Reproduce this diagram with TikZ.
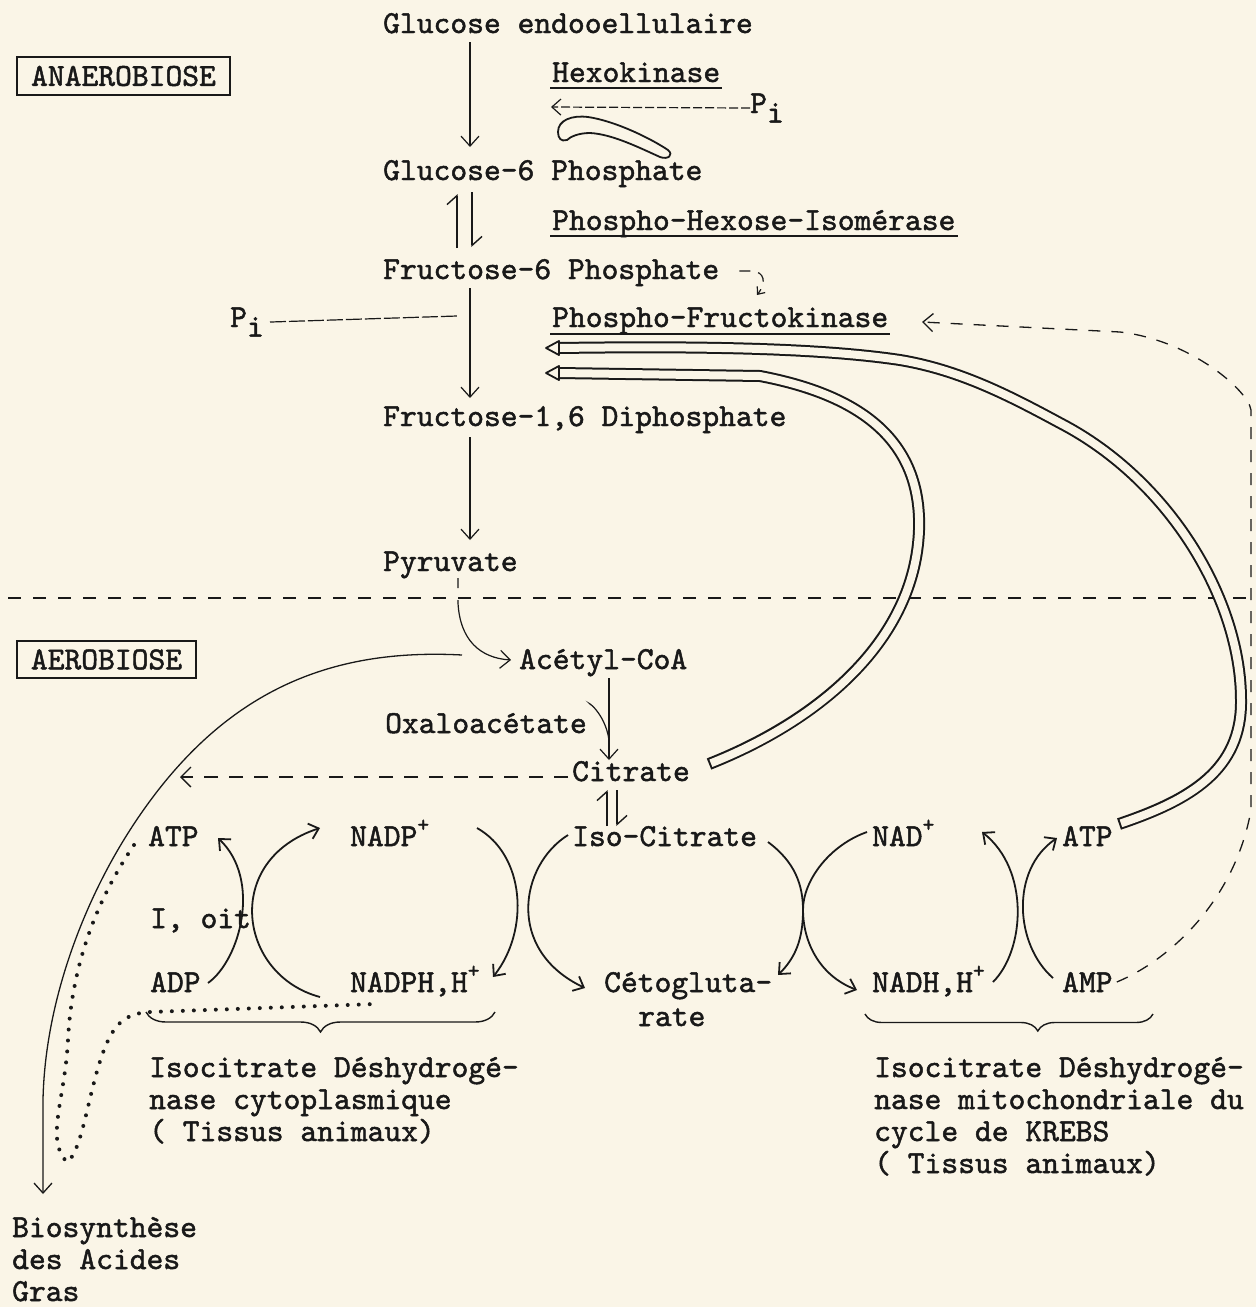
\documentclass[tikz,border=0pt]{standalone}
\usetikzlibrary{arrows.meta,decorations.pathreplacing}
\definecolor{paper}{RGB}{250,245,231}
\definecolor{ink}{RGB}{25,25,25}
\font\tyf="[lmmono10-regular]:mapping=tex-text;embolden=1.5" at 32pt
\tikzset{
  txt/.style={font=\tyf, text=ink, inner sep=0pt, anchor=base west},
  labbox/.style={draw=ink, line width=1.3pt, font=\tyf, text=ink, inner sep=0pt},
  vline/.style={draw=ink, line width=1.2pt},
  arr/.style={vline, -{Straight Barb[length=10pt,width=18pt]}},
  harp/.style={vline, line width=1.4pt, -{Straight Barb[left,length=9pt,width=20pt]}},
  xarc/.style={draw=ink, line width=1.8pt, -{Straight Barb[length=9pt,width=16pt]}},
  uline/.style={draw=ink, line width=1.6pt},
  dashl/.style={draw=ink, line width=1.3pt, dash pattern=on 13pt off 12pt},
  dblout/.style={draw=ink, line width=12pt},
  dblin/.style={draw=paper, line width=8pt},
  dotl/.style={draw=ink, line width=4pt, line cap=round, dash pattern=on 0pt off 11pt},
  brc/.style={draw=ink, line width=1.4pt, decorate},
}
\newcommand{\plussup}{\raisebox{0.45em}{\scalebox{0.7}{+}}}
\begin{document}
\begin{tikzpicture}[x=1pt,y=-1pt]
\fill[paper] (0,0) rectangle (1256,1307);
\useasboundingbox (0,0) rectangle (1256,1307);

% ---------- texts ----------
\node[txt] (glc) at (383,33) {Glucose endooellulaire};
\node[labbox, minimum width=213pt, minimum height=38pt] (anaer) at (123.5,76) {ANAEROBIOSE};
\node[txt] (hexo) at (552,82) {Hexokinase};
\node[txt] (pi1) at (750,113) {P\raisebox{-0.3em}{i}};
\node[txt] (g6p) at (383,180) {Glucose-6 Phosphate};
\node[txt] (phi) at (552,230) {Phospho-Hexose-Isomérase};
\node[txt] (f6p) at (383,279) {Fructose-6 Phosphate};
\node[txt] (pi2) at (230,327) {P\raisebox{-0.3em}{i}};
\node[txt] (pfk) at (552,327) {Phospho-Fructokinase};
\node[txt] (fdp) at (383,426) {Fructose-1,6 Diphosphate};
\node[txt] (pyr) at (383,571) {Pyruvate};
\node[labbox, minimum width=179pt, minimum height=37pt] (aer) at (106.5,659.5) {AEROBIOSE};
\node[txt] (acoa) at (519,669) {Acétyl-CoA};
\node[txt] (oxa) at (385,733) {Oxaloacétate};
\node[txt] (citr) at (572,781) {Citrate};
\node[txt] (iso) at (572,846) {Iso-Citrate};
\node[txt] (atpL) at (148,846) {ATP};
\node[txt] (nadp) at (350,846) {NADP\plussup};
\node[txt] (ioit) at (150,928) {I, oit};
\node[txt] (adp) at (150,992) {ADP};
\node[txt] (nadph) at (350,992) {NADPH,H\plussup};
\node[txt] (ceto) at (604,992) {Cétogluta-};
\node[txt] (ceto2) at (638,1026) {rate};
\node[txt] (nad) at (872,846) {NAD\plussup};
\node[txt] (atpR) at (1062,846) {ATP};
\node[txt] (nadh) at (872,992) {NADH,H\plussup};
\node[txt] (amp) at (1062,992) {AMP};
\node[txt] (idc1) at (149,1077) {Isocitrate Déshydrogé-};
\node[txt] (idc2) at (149,1109) {nase cytoplasmique};
\node[txt] (idc3) at (149,1141) {( Tissus animaux)};
\node[txt] (idm1) at (874,1077) {Isocitrate Déshydrogé-};
\node[txt] (idm2) at (874,1109) {nase mitochondriale du};
\node[txt] (idm3) at (874,1141) {cycle de KREBS};
\node[txt] (idm4) at (874,1173) {( Tissus animaux)};
\node[txt] (bio1) at (12,1237) {Biosynthèse};
\node[txt] (bio2) at (12,1269) {des Acides};
\node[txt] (bio3) at (12,1301) {Gras};

% ---------- underlines ----------
\draw[uline] ([xshift=-2pt,yshift=-6pt]hexo.base west) -- ([xshift=2pt,yshift=-6pt]hexo.base east);
\draw[uline] ([xshift=-2pt,yshift=-6pt]phi.base west) -- ([xshift=2pt,yshift=-6pt]phi.base east);
\draw[uline] ([xshift=-2pt,yshift=-7pt]pfk.base west) -- ([xshift=2pt,yshift=-7pt]pfk.base east);

% ---------- named free ends ----------
\coordinate (hexP) at (551,107);
\coordinate (g1) at (470,42);  \coordinate (g2) at (470,147);
\coordinate (h1a) at (457,248); \coordinate (h1b) at (457,194);
\coordinate (h2a) at (472,192); \coordinate (h2b) at (472,247);
\coordinate (f1) at (470,288); \coordinate (f2) at (470,398);
\coordinate (d1) at (470,437); \coordinate (d2) at (470,540);
\coordinate (piE) at (457,316);
\coordinate (pfkT) at (757,295);
\coordinate (pfkR) at (922,322);
\coordinate (c1a) at (607,826); \coordinate (c1b) at (607,790);
\coordinate (c2a) at (617,790); \coordinate (c2b) at (617,826);
\coordinate (ac1) at (609,678); \coordinate (ac2) at (609,760);
\coordinate (cit0) at (568,777); \coordinate (citL) at (180,777);
\coordinate (pfkA) at (559,348); \coordinate (pfkB) at (559,373);
\coordinate (atpE) at (1119,824); \coordinate (citE) at (709,764);
\coordinate (bioT) at (43,1194);

% ---------- main pathway ----------
\draw[arr] (g1) -- (g2);
\draw[vline, dash pattern=on 9pt off 3pt, -{Straight Barb[length=9pt,width=16pt]}] (pi1.west) -- (hexP);
\draw[draw=ink, line width=1.8pt] (558,132) .. controls (558,120) and (572,115) .. (588,117)
  .. controls (615,121) and (650,138) .. (668,150) .. controls (674,155) and (668,160) .. (660,157)
  .. controls (640,148) and (612,134) .. (590,133) .. controls (578,133) and (570,137) .. (567,140)
  .. controls (561,142) and (558,138) .. cycle;
\draw[harp] (h1a) -- (h1b);
\draw[harp] (h2a) -- (h2b);
\draw[vline, dash pattern=on 11pt off 8pt, -{Straight Barb[length=6pt,width=10pt]}] ([xshift=20pt,yshift=8pt]f6p.base east) -- ++(13,0) .. controls (764,272) and (767,282) .. (pfkT);
\draw[arr] (f1) -- (f2);
\draw[vline, dash pattern=on 16pt off 3pt] ([xshift=6pt]pi2.east) -- (piE);
\draw[arr] (d1) -- (d2);
\draw[vline, dash pattern=on 10pt off 12pt on 400pt, -{Straight Barb[length=10pt,width=18pt]}] (pyr.base -| 458,0) ++(0,7) -- (458,603) .. controls (460,640) and (480,658) .. ([xshift=-8pt,yshift=9pt]acoa.base west);

% divider
\draw[dashl] (8,598) -- (1256,598);

% ---------- aerobic part ----------
\draw[arr] (ac1) -- (ac2);
\draw[vline] ([xshift=4pt,yshift=28pt]oxa.base east) .. controls (585,700) and (605,712) .. (609,740);
\draw[draw=ink, line width=1.3pt, dash pattern=on 14pt off 11pt, -{Straight Barb[length=10pt,width=20pt]}] (cit0) -- (citL);
\draw[harp] (c1a) -- (c1b);
\draw[harp] (c2a) -- (c2b);

% long arrow to fatty acid synthesis
\draw[vline, line width=1.3pt, -{Straight Barb[length=10pt,width=18pt]}] ([xshift=-57pt,yshift=14pt]acoa.base west)
  .. controls (330,648) and (220,690) .. (130,830)
  .. controls (85,900) and (45,1000) .. (43,1100) -- (bioT);

% cross arrows (left)
\draw[xarc] (208,983) .. controls (240,960) and (262,880) .. (218,838);
\draw[xarc] (320,997) .. controls (238,975) and (222,860) .. (320,828);
\draw[xarc] (477,828) .. controls (525,855) and (530,930) .. (493,977);
\draw[xarc] (568,835) .. controls (520,865) and (505,950) .. (585,988);
% cross arrows (right)
\draw[xarc] (768,842) .. controls (795,862) and (803,885) .. (803,910) .. controls (803,940) and (818,975) .. (857,990);
\draw[xarc] (867,832) .. controls (830,845) and (803,880) .. (803,910) .. controls (803,940) and (795,958) .. (778,975);
\draw[xarc] (993,982) .. controls (1025,950) and (1030,870) .. (982,832);
\draw[xarc] (1053,978) .. controls (1015,945) and (1010,870) .. (1057,838);

% braces
\draw[brc, decoration={brace, mirror, amplitude=20pt, aspect=0.5}] (146,1012) -- (495,1012);
\draw[brc, decoration={brace, mirror, amplitude=17pt, aspect=0.6}] (865,1014) -- (1153,1014);

% dotted path
\draw[dotl] (134,845) .. controls (100,895) and (72,960) .. (68,1040)
  .. controls (65,1100) and (45,1140) .. (67,1162)
  .. controls (85,1150) and (90,1070) .. (112,1033)
  .. controls (120,1020) and (130,1013) .. (150,1012) -- (375,1004);

% dashed feedback AMP -> PFK
\draw[draw=ink, line width=1.3pt, dash pattern=on 12pt off 11pt, -{Straight Barb[length=10pt,width=18pt]}]
  ([xshift=4pt,yshift=10pt]amp.base east) .. controls (1170,960) and (1235,900) .. (1251,810)
  -- (1251,410) .. controls (1248,390) and (1190,340) .. (1120,332) -- (pfkR);

% double (hollow) arrows to PFK
\draw[dblout] (atpE) .. controls (1190,800) and (1242,770) .. (1241,700)
  .. controls (1241,600) and (1170,480) .. (1060,423)
  .. controls (1010,396) and (960,370) .. (900,360)
  .. controls (820,348) and (700,346) .. (pfkA);
\draw[dblin, shorten <=2pt] (atpE) .. controls (1190,800) and (1242,770) .. (1241,700)
  .. controls (1241,600) and (1170,480) .. (1060,423)
  .. controls (1010,396) and (960,370) .. (900,360)
  .. controls (820,348) and (700,346) .. (pfkA);
\draw[dblout] (citE) .. controls (820,720) and (915,640) .. (919,530)
  .. controls (922,440) and (860,395) .. (760,376) -- (pfkB);
\draw[dblin, shorten <=2pt] (citE) .. controls (820,720) and (915,640) .. (919,530)
  .. controls (922,440) and (860,395) .. (760,376) -- (pfkB);
\draw[draw=ink, fill=paper, line width=1.8pt, line join=round] (pfkA) ++(0,-7) -- ++(-13,7) -- ++(13,7) -- cycle;
\draw[draw=ink, fill=paper, line width=1.8pt, line join=round] (pfkB) ++(0,-7) -- ++(-13,7) -- ++(13,7) -- cycle;
\end{tikzpicture}
\end{document}
